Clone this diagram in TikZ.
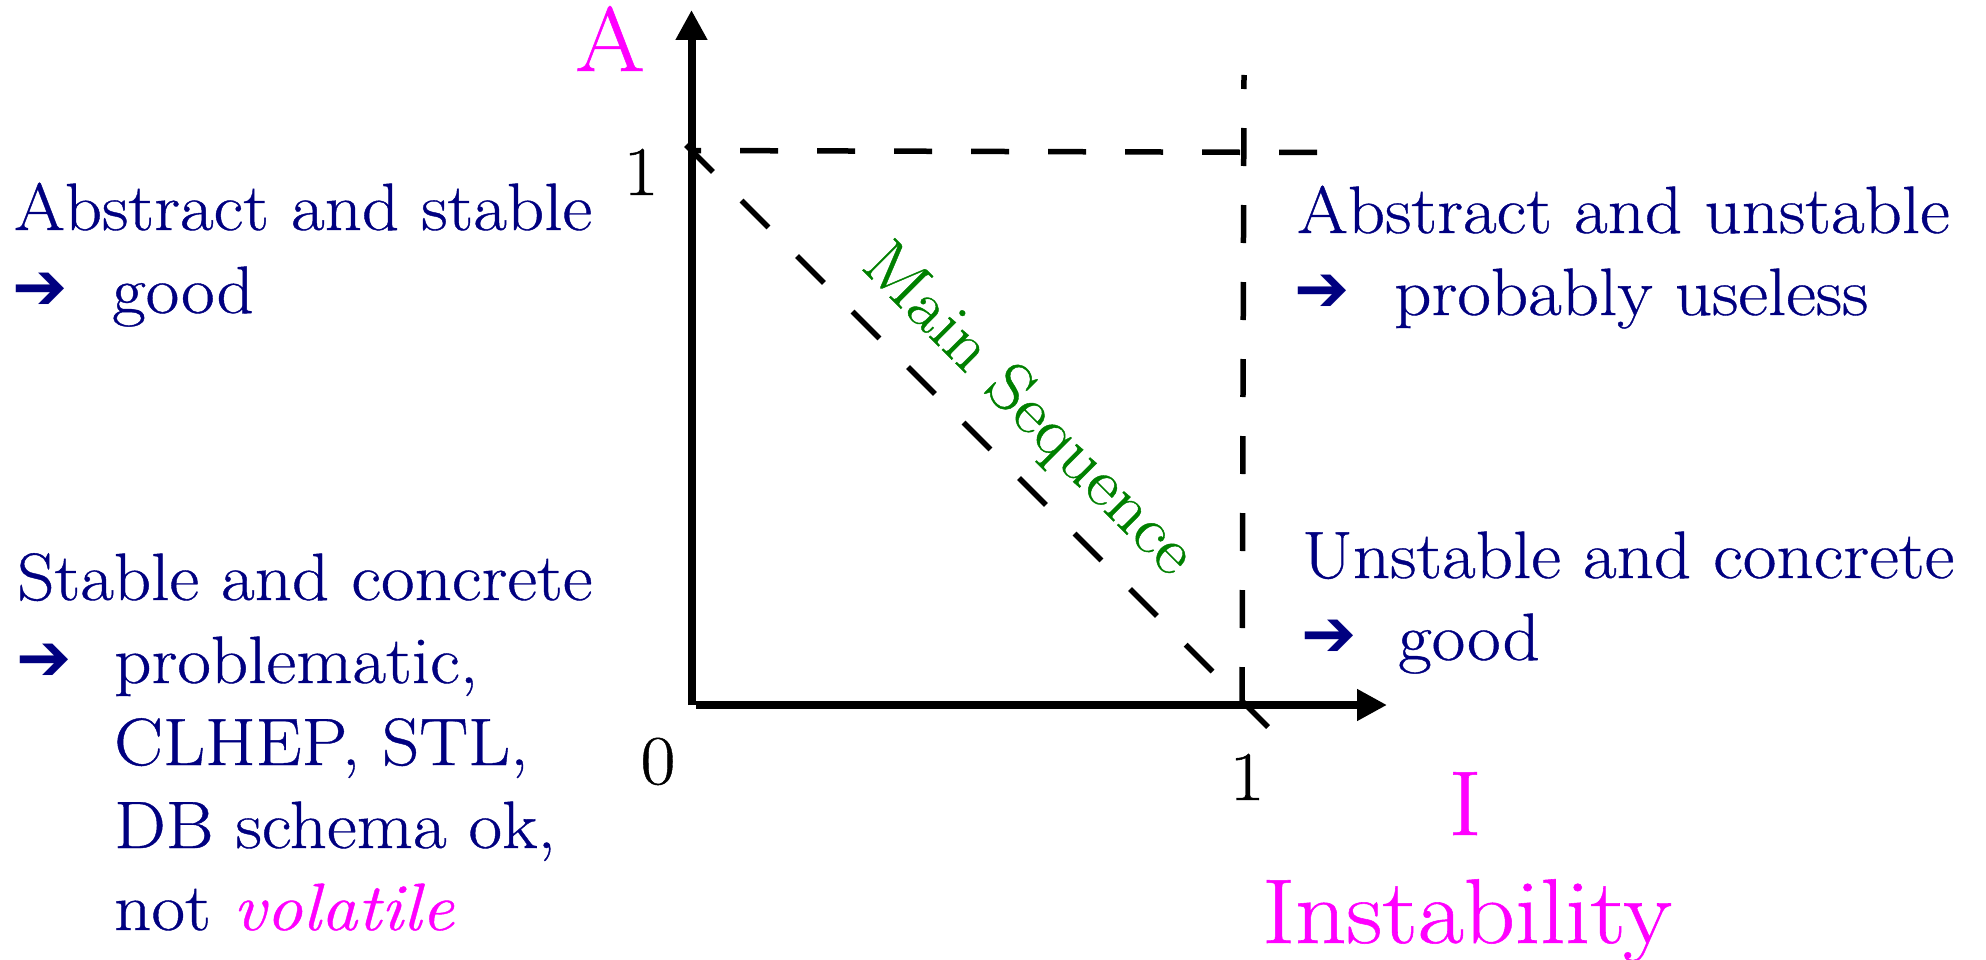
\documentclass[tikz,border=0pt]{standalone}
\usepackage{fontspec}
\setmainfont{Latin Modern Roman}[FakeStretch=1.09, FakeBold=0.6]
\newfontfamily\arrowfont{DejaVu Sans Bold}
\usetikzlibrary{arrows.meta}
\definecolor{navyb}{RGB}{0,0,128}
\definecolor{mag}{RGB}{255,0,255}
\definecolor{msgreen}{RGB}{0,128,0}
\begin{document}
\begin{tikzpicture}[x=1pt,y=-1pt,
  bt/.style={text=navyb, inner sep=0pt, font=\fontsize{67}{80}\selectfont, anchor=base west},
  arr/.style={text=navyb, inner sep=0pt, font=\arrowfont\fontsize{66}{70}\selectfont, anchor=center},
  maglabel/.style={text=mag, inner sep=0pt, font=\fontsize{92}{100}\selectfont, anchor=base},
  ticklabel/.style={text=black, inner sep=0pt, font=\fontsize{70}{80}\selectfont, anchor=base},
  axis/.style={line width=8pt, -{Triangle[length=30pt,width=30pt]}},
  dashline/.style={line width=5.5pt, dash pattern=on 38pt off 39pt}]
\useasboundingbox (0,0) rectangle (1986,960);
% axes
\coordinate (O) at (691.5,705);
\coordinate (Ytip) at (691.5,10);
\coordinate (Xstart) at (696,705);
\coordinate (Xtip) at (1387,705);
\draw[axis] (O) -- (Ytip);
\draw[axis] (Xstart) -- (Xtip);
% dashed lines
\coordinate (H1) at (1317,152.5);
\coordinate (H0) at (691.5,150.5);
\draw[dashline] (H1) -- (H0);
\coordinate (V0) at (1242,705);
\coordinate (V1) at (1244,75);
\draw[dashline] (V0) -- (V1);
\coordinate (D1) at (1268,727);
\coordinate (D0) at (667,126);
\draw[dashline, dash pattern=on 38pt off 40.5pt] (D1) -- (D0);
% axis labels
\node[maglabel] (A) at (610,71) {A};
\node[maglabel] (I) at (1465,835) {I};
\node[maglabel] (instab) at (1467,943) {Instability};
\node[ticklabel] (y1) at (641,195) {1};
\node[ticklabel] (zero) at (658,784) {0};
\node[ticklabel] (x1) at (1247,800) {1};
% main sequence
\node[rotate=-45, anchor=base, text=msgreen, inner sep=0pt, font=\fontsize{67}{80}\selectfont] (ms) at (1015,423) {Main Sequence};
% left top
\node[bt] (ltA) at (14,230) {Abstract and stable};
\node[arr] (ltArr) at (40.5,291) {➔};
\node[bt] (ltB) at (112,313) {good};
% left bottom
\node[bt] (lbA) at (17,600) {Stable and concrete};
\node[arr] (lbArr) at (44.5,662) {➔};
\node[bt] (lbB) at (114,683) {problematic,};
\node[bt] (lbC) at (114,765) {CLHEP, STL,};
\node[bt] (lbD) at (114,848) {DB schema ok,};
\node[bt] (lbE) at (114,930) {not {\color{mag}\itshape volatile}};
% right top
\node[bt] (rtA) at (1297,233) {Abstract and unstable};
\node[arr] (rtArr) at (1322,293) {➔};
\node[bt] (rtB) at (1394,315) {probably useless};
% right bottom
\node[bt] (rbA) at (1302,578) {Unstable and concrete};
\node[arr] (rbArr) at (1329,638) {➔};
\node[bt] (rbB) at (1398,660) {good};
\end{tikzpicture}
\end{document}
